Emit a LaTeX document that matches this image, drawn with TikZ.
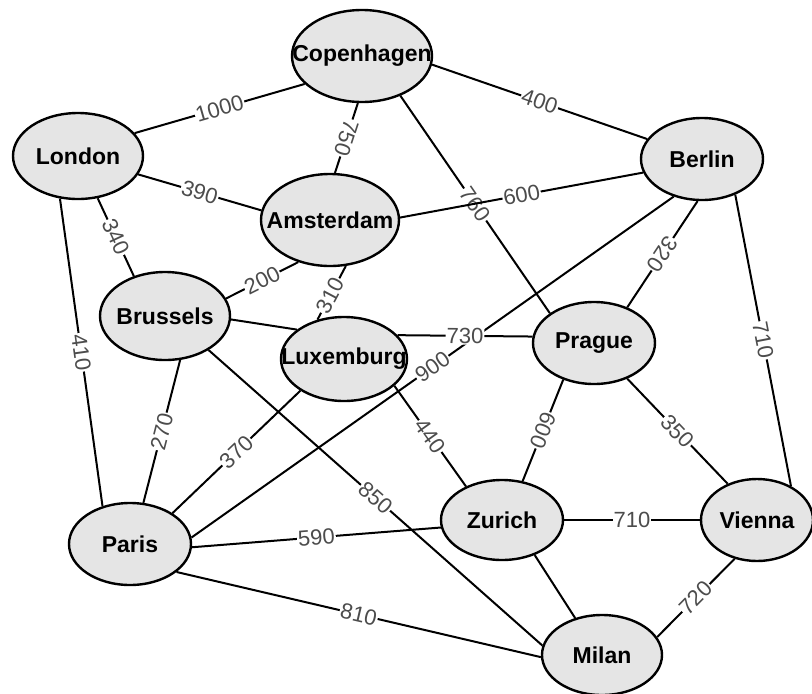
\documentclass[tikz,border=0pt]{standalone}
\usepackage{fontspec}
\setmainfont{Liberation Sans}
\usetikzlibrary{shapes.geometric}
\begin{document}
\begin{tikzpicture}[x=1pt,y=-1pt,
  city/.style={ellipse, draw=black, line width=2.4pt, fill=black!10, inner sep=0pt,
    font=\fontsize{23}{27}\selectfont\bfseries},
  road/.style={line width=2pt, draw=black},
  dist/.style={sloped, allow upside down, midway, fill=white, inner sep=1pt,
    text=black!70, font=\fontsize{22}{24}\selectfont}]
\useasboundingbox (0,0) rectangle (812,694);
\node[city, minimum width=140pt, minimum height=92pt] (cop) at (362,56) {\makebox[0pt]{Copenhagen}};
\node[city, minimum width=130pt, minimum height=86pt] (lon) at (78,156) {\makebox[0pt]{London}};
\node[city, minimum width=138pt, minimum height=92pt] (ams) at (330,220) {\makebox[0pt]{Amsterdam}};
\node[city, minimum width=122pt, minimum height=82pt] (ber) at (702,159) {\makebox[0pt]{Berlin}};
\node[city, minimum width=130pt, minimum height=88pt] (bru) at (165,316) {\makebox[0pt]{Brussels}};
\node[city, minimum width=126pt, minimum height=84pt] (lux) at (344,359) {\makebox[0pt]{Luxemburg}};
\node[city, minimum width=122pt, minimum height=82pt] (par) at (130,544) {\makebox[0pt]{Paris}};
\node[city, minimum width=122pt, minimum height=82pt] (pra) at (594,343) {\makebox[0pt]{Prague}};
\node[city, minimum width=122pt, minimum height=80pt] (zur) at (502,520) {\makebox[0pt]{Zurich}};
\node[city, minimum width=112pt, minimum height=82pt] (vie) at (757,520) {\makebox[0pt]{Vienna}};
\node[city, minimum width=120pt, minimum height=80pt] (mil) at (602,655) {\makebox[0pt]{Milan}};

\draw[road] (lon.22) -- node[dist]{1000} (cop.206);
\draw[road] (cop.-95) -- node[dist]{750} (ams.84);
\draw[road] (cop.-7) -- node[dist]{400} (ber.160);
\draw[road] (cop.-46) -- node[dist]{760} (pra.146);
\draw[road] (lon.-17) -- node[dist]{390} (ams.172);
\draw[road] (lon.-65) -- node[dist]{340} (bru.128);
\draw[road] (lon.-113) -- node[dist]{410} (par.126);
\draw[road] (ams.2) -- node[dist]{600} (ber.193);
\draw[road] (bru.16) -- node[dist]{200} (ams.-127);
\draw[road] (lux.124) -- node[dist,pos=0.45]{310} (ams.-71);
\draw[road] (ber.-96) -- node[dist]{320} (pra.47);
\draw[road] (ber.-47) -- node[dist]{710} (vie.45);
\draw[road] (par.6) -- node[dist]{900} (ber.-127);
\draw[road] (bru.-3) -- (lux.148);
\draw[road] (lux.24) -- node[dist]{730} (pra.174);
\draw[road] (par.72) -- node[dist]{270} (bru.-71);
\draw[road] (bru.-38) -- node[dist]{850} (mil.171);
\draw[road] (par.36) -- node[dist]{370} (lux.-144);
\draw[road] (lux.-28) -- node[dist]{440} (zur.137);
\draw[road] (pra.-130) -- node[dist]{600} (zur.62);
\draw[road] (pra.-47) -- node[dist]{350} (vie.129);
\draw[road] (par.-3) -- node[dist]{590} (zur.-173);
\draw[road] (par.-31) -- node[dist]{810} (mil.-178);
\draw[road] (zur.0) -- node[dist]{710} (vie.180);
\draw[road] (zur.-47) -- (mil.126);
\draw[road] (mil.18) -- node[dist]{720} (vie.-120);
\end{tikzpicture}
\end{document}
